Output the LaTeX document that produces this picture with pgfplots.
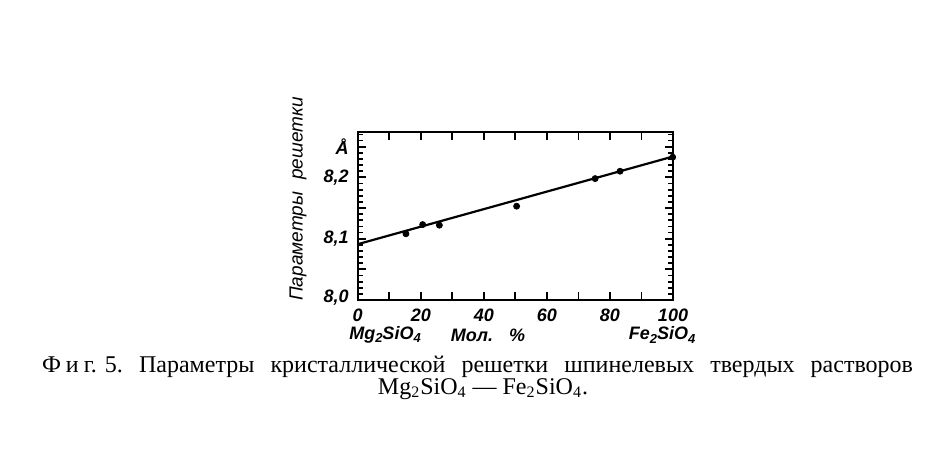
\documentclass[border=0pt]{standalone}
\usepackage{fontspec}
\setmainfont{Liberation Serif}
\newfontfamily\axfont{Liberation Sans}
\usepackage{pgfplots}
\pgfplotsset{compat=1.18}
\newcommand{\sub}[1]{\raisebox{-0.35ex}{\fontsize{6.5pt}{7pt}\selectfont #1}}
\begin{document}
\begin{tikzpicture}
\useasboundingbox (0,0) rectangle (462.5pt,232.5pt);
\begin{axis}[
  at={(178.85pt,82.5pt)}, anchor=south west,
  scale only axis, width=157.65pt, height=84pt,
  xmin=0, xmax=100, ymin=8.0, ymax=8.274,
  axis line style={line width=1.2pt},
  tick style={black, line width=0.9pt},
  tick align=inside,
  xtick={0,10,...,100},
  xticklabels={0,,20,,40,,60,,80,,100},
  ytick={8.0,8.05,8.1,8.15,8.2,8.25},
  yticklabels={{\raisebox{4pt}{8,0}},{},{8,1},{},{8,2},{\AA}},
  minor ytick={8.01,8.02,8.03,8.04,8.06,8.07,8.08,8.09,8.11,8.12,8.13,8.14,8.16,8.17,8.18,8.19,8.21,8.22,8.23,8.24,8.26,8.27},
  major tick length=4pt, minor tick length=2.5pt,
  xtick pos=both, ytick pos=both,
  ticklabel style={font=\axfont\bfseries\itshape\fontsize{9pt}{10pt}\selectfont},
  xticklabel style={yshift=-1pt},
  yticklabel style={xshift=-1pt},
  clip=false,
]
\addplot[black, line width=1.1pt, no marks] coordinates {(0,8.091) (100,8.234)};
\addplot[only marks, mark=*, mark size=1.5pt, black] coordinates {
  (15.3,8.108) (20.6,8.123) (25.9,8.122) (50.4,8.153) (75.3,8.198) (83.2,8.210) (99.9,8.233)
};
\end{axis}
\node[rotate=90, font=\axfont\itshape\fontsize{9.5pt}{10pt}\selectfont] at (149pt,133pt)
  {Параметры\hspace{6pt}решетки};
\node[font=\axfont\bfseries\itshape\fontsize{9pt}{10pt}\selectfont] at (192.5pt,65pt) {Mg\sub{2}SiO\sub{4}};
\node[font=\axfont\bfseries\itshape\fontsize{9pt}{10pt}\selectfont] at (244pt,65pt) {Мол.\hspace{8pt}\%};
\node[font=\axfont\bfseries\itshape\fontsize{9pt}{10pt}\selectfont] at (331pt,65pt) {Fe\sub{2}SiO\sub{4}};
\node[font=\fontsize{12pt}{13pt}\selectfont, inner sep=0pt] at (238.75pt,49pt)
  {\makebox[435.5pt][s]{Ф\kern2.5pt и\kern2.5pt г.\kern4pt 5.\hfil Параметры\hfil кристаллической\hfil решетки\hfil шпинелевых\hfil твердых\hfil растворов}};
\node[font=\fontsize{12pt}{13pt}\selectfont, inner sep=0pt] at (241.5pt,38pt)
  {Mg\textsubscript{2}SiO\textsubscript{4} --- Fe\textsubscript{2}SiO\textsubscript{4}.};
\end{tikzpicture}
\end{document}
